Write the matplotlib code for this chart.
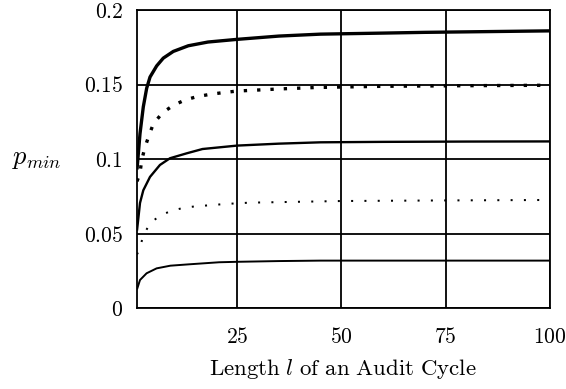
import matplotlib
matplotlib.use("Agg")
import matplotlib.pyplot as plt
from matplotlib.ticker import FixedLocator, FuncFormatter

plt.rcParams['mathtext.fontset'] = 'cm'

# Data (l = audit cycle length, p_min values)
l_top = [1, 1.72, 2.51, 3.32, 4.12, 5.72, 7.3, 9.7, 13.3, 18, 25, 35, 45, 60, 70, 85, 100]
p_top = [0.093, 0.117, 0.135, 0.1475, 0.155, 0.1625, 0.1677, 0.1722, 0.176, 0.1785, 0.1803,
         0.1825, 0.1838, 0.1845, 0.185, 0.1855, 0.186]

l_dot_thick = [1, 1.72, 2.1, 2.9, 3.9, 4.9, 7.1, 9.7, 12.5, 15.3, 18.5, 21.5, 25, 35, 44, 60, 80, 100]
p_dot_thick = [0.085, 0.0904, 0.0989, 0.1078, 0.116, 0.1235, 0.131, 0.136, 0.1396, 0.1418,
               0.1434, 0.1445, 0.1456, 0.147, 0.148, 0.1488, 0.1492, 0.1495]

l_mid = [1, 1.72, 2.51, 4.12, 6.5, 8.9, 12.9, 16.7, 25, 35, 45, 60, 80, 100]
p_mid = [0.052, 0.0705, 0.079, 0.088, 0.096, 0.1005, 0.1038, 0.1067, 0.109, 0.1103,
         0.1112, 0.1115, 0.1117, 0.1118]

l_dot_thin = [1, 1.72, 2.4, 4.1, 6.5, 9.3, 12.3, 15.5, 18.8, 22, 28, 50, 75, 100]
p_dot_thin = [0.036, 0.040, 0.048, 0.0568, 0.062, 0.0653, 0.0673, 0.0684, 0.069, 0.0698,
              0.0707, 0.0718, 0.0722, 0.0725]

l_bot = [1, 1.72, 3.3, 5.7, 9.0, 13.4, 20.7, 25, 35, 45, 70, 100]
p_bot = [0.0125, 0.0188, 0.0233, 0.0266, 0.0284, 0.0293, 0.0307, 0.031, 0.0315, 0.0318,
         0.0318, 0.0318]

x_ticks = [25, 50, 75, 100]
y_ticks = [0, 0.05, 0.1, 0.15, 0.2]
y_tick_labels = ['0', '0.05', '0.1', '0.15', '0.2']

fig = plt.figure(figsize=(5.66, 3.89), dpi=100)
ax = fig.add_axes([137/566, 1-308/389, (550-137)/566, (308-10)/389])

ax.plot(l_top, p_top, color='black', lw=2.4, solid_capstyle='butt')
ax.plot(l_dot_thick, p_dot_thick, color='black', lw=2.4, linestyle=(0, (1, 3)), dash_capstyle='butt')
ax.plot(l_mid, p_mid, color='black', lw=1.7, solid_capstyle='butt')
ax.plot(l_dot_thin, p_dot_thin, color='black', lw=1.45, linestyle=(0, (1, 5.6)), dash_capstyle='butt')
ax.plot(l_bot, p_bot, color='black', lw=1.4, solid_capstyle='butt')

ax.set_xlim(1, 100)
ax.set_ylim(0, 0.2)
ax.xaxis.set_major_locator(FixedLocator(x_ticks))
ax.yaxis.set_major_locator(FixedLocator(y_ticks))
ax.xaxis.set_major_formatter(FuncFormatter(lambda v, p: r'$%d$' % v))
lab_map = dict(zip(y_ticks, y_tick_labels))
ax.yaxis.set_major_formatter(FuncFormatter(lambda v, p: r'$%s$' % lab_map.get(round(v, 3), '')))
ax.tick_params(axis='both', length=0, labelsize=15.5)
ax.tick_params(axis='x', pad=14)
ax.tick_params(axis='y', pad=10)
ax.grid(True, color='black', lw=1.3)
ax.set_axisbelow(True)
for s in ax.spines.values():
    s.set_linewidth(1.3)
    s.set_color('black')

fig.text(343/566, 1-369/389, r'$\mathrm{Length}\ l\ \mathrm{of\ an\ Audit\ Cycle}$',
         ha='center', va='center', fontsize=16.5)
fig.text(37/566, 1-158/389, r'$p_{min}$', ha='center', va='center', fontsize=19)

fig.savefig('out.png', dpi=100)
